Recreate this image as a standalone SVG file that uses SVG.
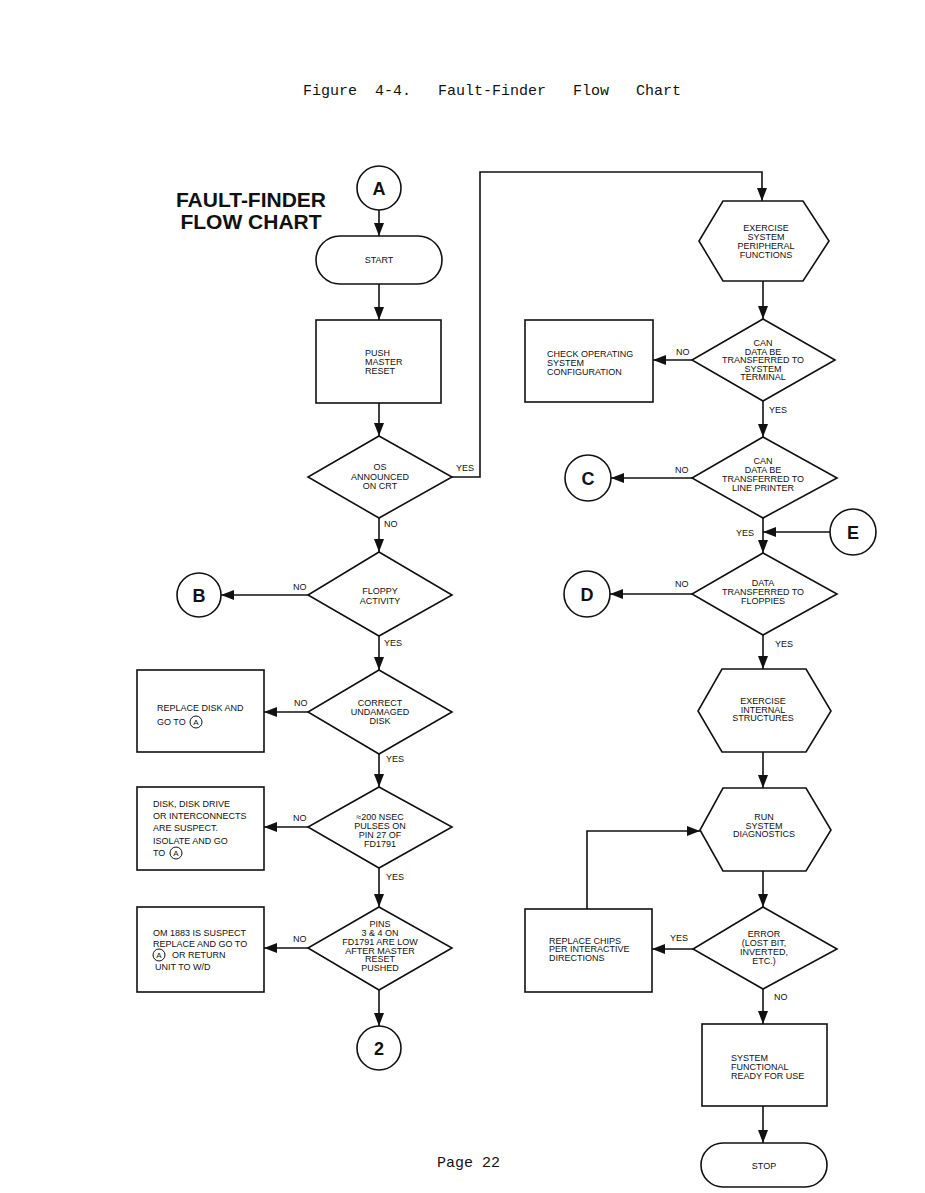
<svg xmlns="http://www.w3.org/2000/svg" width="925" height="1193" viewBox="0 0 925 1193">
<style>
.sh{fill:#fff;stroke:#111;stroke-width:1.6}
.ln{fill:none;stroke:#111;stroke-width:1.6}
.t{font-family:"Liberation Sans",Arial,sans-serif;font-size:9px;fill:#111}
.c{text-anchor:middle}
.big{font-family:"Liberation Sans",Arial,sans-serif;font-size:21px;font-weight:bold;fill:#111;text-anchor:middle}
.cl{font-family:"Liberation Sans",Arial,sans-serif;font-size:18px;font-weight:bold;fill:#111;text-anchor:middle}
.mono{font-family:"Liberation Mono","DejaVu Sans Mono",monospace;font-size:15px;fill:#111}
.ca{fill:none;stroke:#111;stroke-width:1}
.cat{font-family:"Liberation Sans",Arial,sans-serif;font-size:8px;fill:#111;text-anchor:middle}
</style>
<defs>
<marker id="ah" markerUnits="userSpaceOnUse" markerWidth="14" markerHeight="10" refX="13" refY="5" orient="auto">
<path d="M0,0 L13,5 L0,10 z" fill="#111"/>
</marker>
</defs>
<rect width="925" height="1193" fill="#fff"/>
<text class="mono" x="303" y="95" xml:space="preserve">Figure  4-4.   Fault-Finder   Flow   Chart</text>
<text class="mono" x="437" y="1167">Page 22</text>
<text class="big" x="251" y="207">FAULT-FINDER</text>
<text class="big" x="251" y="229">FLOW CHART</text>

<g id="connectors">
<line class="ln" x1="379" y1="210" x2="379" y2="236" marker-end="url(#ah)"/>
<line class="ln" x1="379" y1="284" x2="379" y2="320" marker-end="url(#ah)"/>
<line class="ln" x1="379" y1="403" x2="379" y2="436" marker-end="url(#ah)"/>
<polyline class="ln" points="452,477 480,477 480,172 762,172 762,201" marker-end="url(#ah)"/>
<line class="ln" x1="379" y1="518" x2="379" y2="552" marker-end="url(#ah)"/>
<line class="ln" x1="308" y1="595" x2="221" y2="595" marker-end="url(#ah)"/>
<line class="ln" x1="379" y1="636" x2="379" y2="670" marker-end="url(#ah)"/>
<line class="ln" x1="308" y1="712" x2="264" y2="712" marker-end="url(#ah)"/>
<line class="ln" x1="379" y1="754" x2="379" y2="787" marker-end="url(#ah)"/>
<line class="ln" x1="308" y1="827" x2="264" y2="827" marker-end="url(#ah)"/>
<line class="ln" x1="379" y1="868" x2="379" y2="907" marker-end="url(#ah)"/>
<line class="ln" x1="308" y1="948" x2="264" y2="948" marker-end="url(#ah)"/>
<line class="ln" x1="379" y1="990" x2="379" y2="1026" marker-end="url(#ah)"/>
<line class="ln" x1="763" y1="281" x2="763" y2="319" marker-end="url(#ah)"/>
<line class="ln" x1="692" y1="360" x2="653" y2="360" marker-end="url(#ah)"/>
<line class="ln" x1="763" y1="401" x2="763" y2="437" marker-end="url(#ah)"/>
<line class="ln" x1="692" y1="478" x2="611" y2="478" marker-end="url(#ah)"/>
<line class="ln" x1="763" y1="518" x2="763" y2="553" marker-end="url(#ah)"/>
<line class="ln" x1="830" y1="532" x2="763" y2="532" marker-end="url(#ah)"/>
<line class="ln" x1="692" y1="594" x2="610" y2="594" marker-end="url(#ah)"/>
<line class="ln" x1="763" y1="635" x2="763" y2="669" marker-end="url(#ah)"/>
<line class="ln" x1="763" y1="752" x2="763" y2="788" marker-end="url(#ah)"/>
<polyline class="ln" points="587,909 587,831 700,831" marker-end="url(#ah)"/>
<line class="ln" x1="763" y1="871" x2="763" y2="907" marker-end="url(#ah)"/>
<line class="ln" x1="693" y1="949" x2="652" y2="949" marker-end="url(#ah)"/>
<line class="ln" x1="763" y1="989" x2="763" y2="1024" marker-end="url(#ah)"/>
<line class="ln" x1="763" y1="1106" x2="763" y2="1143" marker-end="url(#ah)"/>
<text class="t" x="456" y="471">YES</text>
<text class="t" x="384" y="527">NO</text>
<text class="t" x="293" y="590">NO</text>
<text class="t" x="384" y="646">YES</text>
<text class="t" x="294" y="706">NO</text>
<text class="t" x="386" y="762">YES</text>
<text class="t" x="293" y="821">NO</text>
<text class="t" x="386" y="880">YES</text>
<text class="t" x="293" y="942">NO</text>
<text class="t" x="676" y="355">NO</text>
<text class="t" x="769" y="413">YES</text>
<text class="t" x="675" y="473">NO</text>
<text class="t" x="736" y="536">YES</text>
<text class="t" x="675" y="587">NO</text>
<text class="t" x="775" y="647">YES</text>
<text class="t" x="670" y="941">YES</text>
<text class="t" x="774" y="1000">NO</text>
</g>

<g id="nodeA"><circle class="sh" cx="379" cy="188" r="22"/><text class="cl" x="379" y="195">A</text></g>
<g id="start"><rect class="sh" x="316" y="236" width="126" height="48" rx="24"/><text class="t c" x="379" y="263">START</text></g>
<g id="push"><rect class="sh" x="316" y="320" width="125" height="83"/>
<text class="t" x="365" y="356">PUSH</text><text class="t" x="365" y="365">MASTER</text><text class="t" x="365" y="374">RESET</text></g>
<g id="os"><polygon class="sh" points="379,436 452,477 379,518 308,477"/>
<text class="t c" x="380" y="470">OS</text><text class="t c" x="380" y="480">ANNOUNCED</text><text class="t c" x="380" y="489">ON CRT</text></g>
<g id="floppy"><polygon class="sh" points="379,552 452,595 379,636 308,595"/>
<text class="t c" x="380" y="594">FLOPPY</text><text class="t c" x="380" y="604">ACTIVITY</text></g>
<g id="nodeB"><circle class="sh" cx="199" cy="595" r="22"/><text class="cl" x="199" y="602">B</text></g>
<g id="correct"><polygon class="sh" points="379,670 452,712 379,754 308,712"/>
<text class="t c" x="380" y="706">CORRECT</text><text class="t c" x="380" y="715">UNDAMAGED</text><text class="t c" x="380" y="724">DISK</text></g>
<g id="replaceDisk"><rect class="sh" x="137" y="670" width="127" height="82"/>
<text class="t" x="157" y="711">REPLACE DISK AND</text><text class="t" x="157" y="725">GO TO</text>
<circle class="ca" cx="196" cy="722" r="6"/><text class="cat" x="196" y="725">A</text></g>
<g id="nsec"><polygon class="sh" points="379,787 452,827 379,868 308,827"/>
<text class="t c" x="380" y="820">≈200 NSEC</text><text class="t c" x="380" y="829">PULSES ON</text><text class="t c" x="380" y="838">PIN 27 OF</text><text class="t c" x="380" y="847">FD1791</text></g>
<g id="diskSuspect"><rect class="sh" x="137" y="787" width="127" height="83"/>
<text class="t" x="153" y="807">DISK, DISK DRIVE</text><text class="t" x="153" y="819">OR INTERCONNECTS</text><text class="t" x="153" y="831">ARE SUSPECT.</text><text class="t" x="153" y="844">ISOLATE AND GO</text><text class="t" x="153" y="856">TO</text>
<circle class="ca" cx="176" cy="853" r="6"/><text class="cat" x="176" y="856">A</text></g>
<g id="pins"><polygon class="sh" points="379,907 452,948 379,990 308,948"/>
<text class="t c" x="380" y="927">PINS</text><text class="t c" x="380" y="936">3 &amp; 4 ON</text><text class="t c" x="380" y="945">FD1791 ARE LOW</text><text class="t c" x="380" y="954">AFTER MASTER</text><text class="t c" x="380" y="962">RESET</text><text class="t c" x="380" y="971">PUSHED</text></g>
<g id="romSuspect"><rect class="sh" x="137" y="907" width="127" height="85"/>
<text class="t" x="153" y="936">OM 1883 IS SUSPECT</text><text class="t" x="153" y="947">REPLACE AND GO TO</text>
<circle class="ca" cx="159" cy="955" r="6"/><text class="cat" x="159" y="958">A</text><text class="t" x="172" y="958">OR RETURN</text><text class="t" x="155" y="970">UNIT TO W/D</text></g>
<g id="node2"><circle class="sh" cx="379" cy="1048" r="22"/><text class="cl" x="379" y="1055">2</text></g>

<g id="exPeripheral"><polygon class="sh" points="723,201 803,201 829,241 803,281 723,281 699,241"/>
<text class="t c" x="766" y="231">EXERCISE</text><text class="t c" x="766" y="240">SYSTEM</text><text class="t c" x="766" y="249">PERIPHERAL</text><text class="t c" x="766" y="258">FUNCTIONS</text></g>
<g id="terminal"><polygon class="sh" points="763,319 835,360 763,401 692,360"/>
<text class="t c" x="763" y="346">CAN</text><text class="t c" x="763" y="355">DATA BE</text><text class="t c" x="763" y="363">TRANSFERRED TO</text><text class="t c" x="763" y="372">SYSTEM</text><text class="t c" x="763" y="380">TERMINAL</text></g>
<g id="checkOS"><rect class="sh" x="525" y="320" width="128" height="82"/>
<text class="t" x="547" y="357">CHECK OPERATING</text><text class="t" x="547" y="366">SYSTEM</text><text class="t" x="547" y="375">CONFIGURATION</text></g>
<g id="printer"><polygon class="sh" points="763,437 837,478 763,518 692,478"/>
<text class="t c" x="763" y="464">CAN</text><text class="t c" x="763" y="473">DATA BE</text><text class="t c" x="763" y="482">TRANSFERRED TO</text><text class="t c" x="763" y="491">LINE PRINTER</text></g>
<g id="nodeC"><circle class="sh" cx="588" cy="478" r="23"/><text class="cl" x="588" y="485">C</text></g>
<g id="nodeE"><circle class="sh" cx="853" cy="532" r="23"/><text class="cl" x="853" y="539">E</text></g>
<g id="floppies"><polygon class="sh" points="763,553 837,594 763,635 692,594"/>
<text class="t c" x="763" y="586">DATA</text><text class="t c" x="763" y="595">TRANSFERRED TO</text><text class="t c" x="763" y="604">FLOPPIES</text></g>
<g id="nodeD"><circle class="sh" cx="587" cy="594" r="23"/><text class="cl" x="587" y="601">D</text></g>
<g id="exInternal"><polygon class="sh" points="722,669 806,669 831,711 806,752 722,752 698,711"/>
<text class="t c" x="763" y="704">EXERCISE</text><text class="t c" x="763" y="713">INTERNAL</text><text class="t c" x="763" y="721">STRUCTURES</text></g>
<g id="diagnostics"><polygon class="sh" points="723,788 806,788 831,830 806,871 723,871 700,830"/>
<text class="t c" x="764" y="820">RUN</text><text class="t c" x="764" y="829">SYSTEM</text><text class="t c" x="764" y="837">DIAGNOSTICS</text></g>
<g id="error"><polygon class="sh" points="763,907 837,949 763,989 693,949"/>
<text class="t c" x="764" y="937">ERROR</text><text class="t c" x="764" y="946">(LOST BIT,</text><text class="t c" x="764" y="955">INVERTED,</text><text class="t c" x="764" y="964">ETC.)</text></g>
<g id="replaceChips"><rect class="sh" x="525" y="909" width="127" height="83"/>
<text class="t" x="549" y="944">REPLACE CHIPS</text><text class="t" x="549" y="952">PER INTERACTIVE</text><text class="t" x="549" y="961">DIRECTIONS</text></g>
<g id="functional"><rect class="sh" x="702" y="1024" width="125" height="82"/>
<text class="t" x="731" y="1061">SYSTEM</text><text class="t" x="731" y="1070">FUNCTIONAL</text><text class="t" x="731" y="1079">READY FOR USE</text></g>
<g id="stop"><rect class="sh" x="701" y="1143" width="126" height="44" rx="22"/><text class="t c" x="764" y="1169">STOP</text></g>
</svg>
